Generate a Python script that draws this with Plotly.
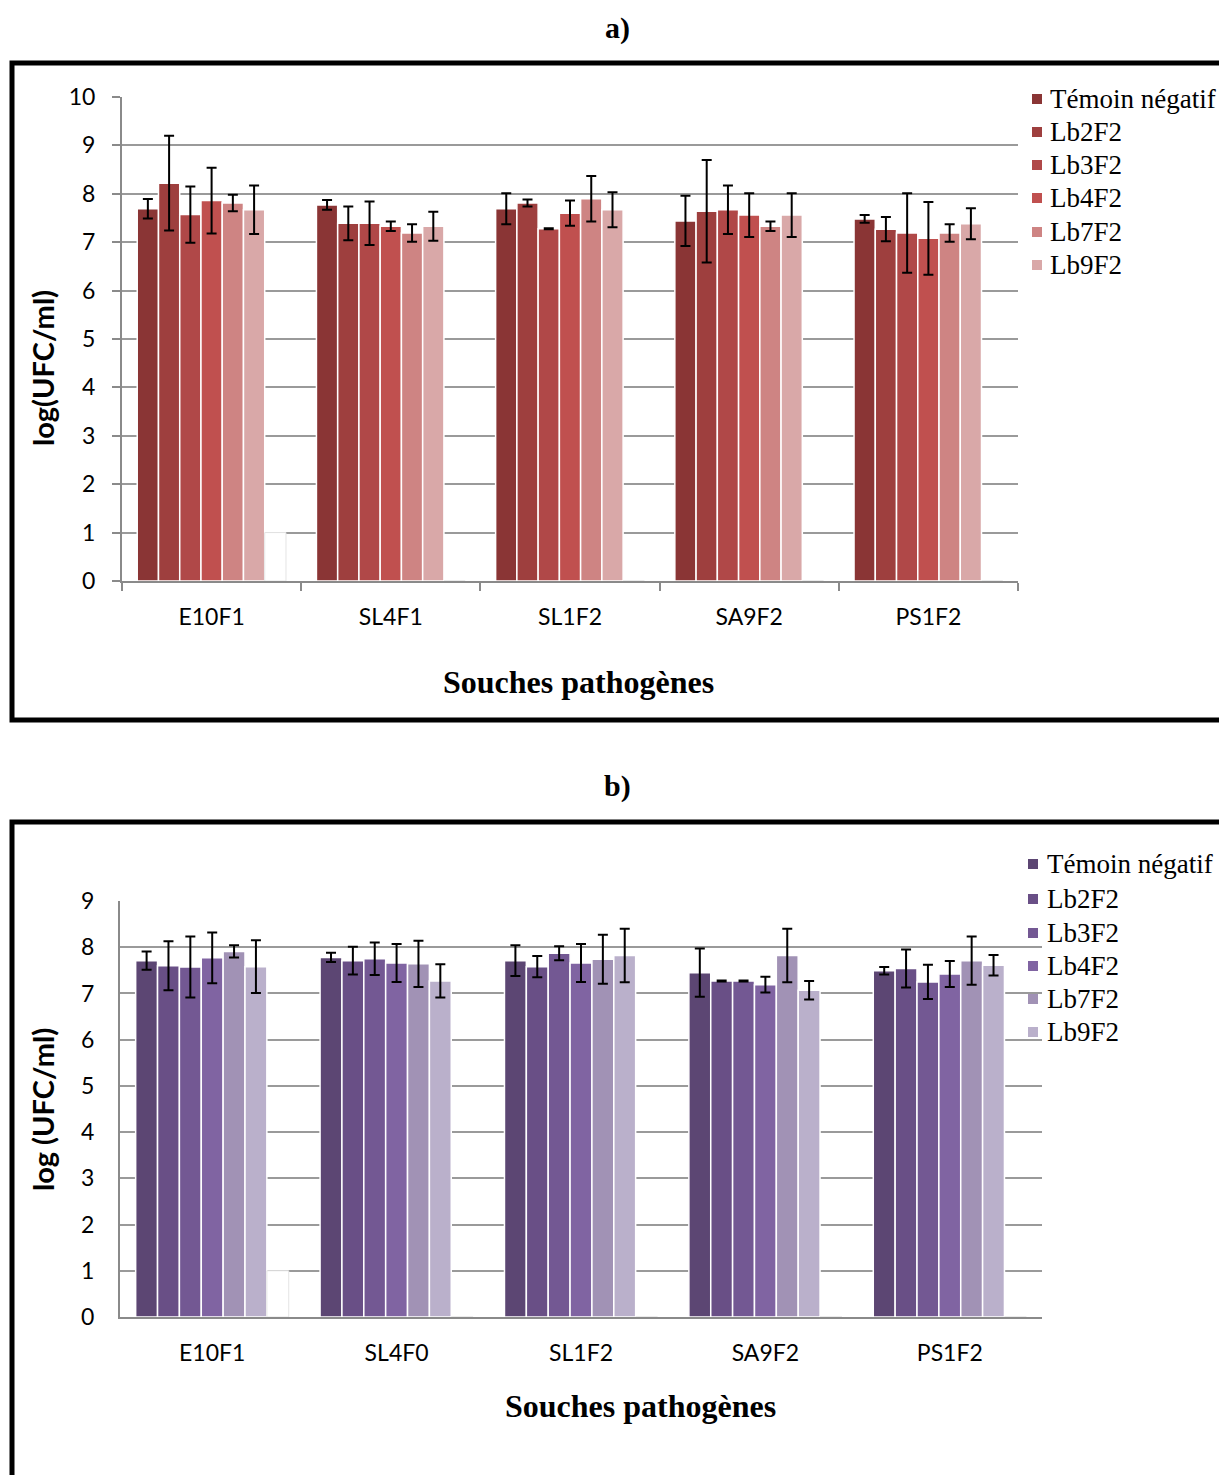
import plotly.graph_objects as go

W, H = 1219, 1475

series = ["Témoin négatif", "Lb2F2", "Lb3F2", "Lb4F2", "Lb7F2", "Lb9F2"]
cats_a = ["E10F1", "SL4F1", "SL1F2", "SA9F2", "PS1F2"]
cats_b = ["E10F1", "SL4F0", "SL1F2", "SA9F2", "PS1F2"]

colors_a = ["#8A3535", "#9E3F3E", "#B04848", "#C0504F", "#CE8483", "#D9A8A8"]
colors_b = ["#5C4673", "#694F86", "#735893", "#8064A2", "#A192B5", "#BAB0CB"]

vals_a = [
    [7.69, 7.77, 7.69, 7.44, 7.48],
    [8.22, 7.39, 7.81, 7.64, 7.27],
    [7.57, 7.39, 7.28, 7.67, 7.19],
    [7.86, 7.33, 7.60, 7.56, 7.08],
    [7.81, 7.19, 7.90, 7.33, 7.19],
    [7.67, 7.33, 7.67, 7.56, 7.38],
]
errs_a = [
    [0.20, 0.10, 0.32, 0.52, 0.08],
    [0.98, 0.35, 0.07, 1.06, 0.25],
    [0.58, 0.45, 0.01, 0.50, 0.82],
    [0.68, 0.10, 0.26, 0.45, 0.75],
    [0.17, 0.18, 0.47, 0.10, 0.18],
    [0.50, 0.30, 0.36, 0.45, 0.32],
]
vals_b = [
    [7.71, 7.78, 7.71, 7.45, 7.49],
    [7.60, 7.71, 7.58, 7.27, 7.54],
    [7.57, 7.75, 7.87, 7.27, 7.25],
    [7.77, 7.66, 7.66, 7.19, 7.42],
    [7.91, 7.64, 7.74, 7.82, 7.71],
    [7.58, 7.27, 7.82, 7.07, 7.61],
]
errs_b = [
    [0.20, 0.10, 0.33, 0.52, 0.08],
    [0.53, 0.30, 0.23, 0.01, 0.41],
    [0.66, 0.35, 0.15, 0.01, 0.37],
    [0.55, 0.41, 0.41, 0.17, 0.28],
    [0.13, 0.50, 0.53, 0.58, 0.52],
    [0.57, 0.36, 0.58, 0.20, 0.22],
]
blank_a = [1, 0, 0, 0, 0]
blank_b = [1, 0, 0, 0, 0]

yticks_a = [0, 1, 2, 3, 4, 5, 6, 7, 8, 9, 10]
yticks_b = [0, 1, 2, 3, 4, 5, 6, 7, 8, 9]


def px(x):
    return x / W


def py(y):
    return 1 - y / H


fig = go.Figure()

for i, name in enumerate(series):
    fig.add_trace(go.Bar(
        x=cats_a, y=vals_a[i], name=name, xaxis="x", yaxis="y",
        marker=dict(color=colors_a[i], line=dict(color="white", width=1.5)),
        error_y=dict(type="data", array=errs_a[i], color="black", thickness=2, width=5),
        showlegend=False,
    ))
fig.add_trace(go.Bar(
    x=cats_a, y=blank_a, xaxis="x", yaxis="y",
    marker=dict(color="white", line=dict(color="#e4e4e4", width=1)),
    showlegend=False, hoverinfo="skip",
))
for i, name in enumerate(series):
    fig.add_trace(go.Bar(
        x=cats_b, y=vals_b[i], name=name, xaxis="x2", yaxis="y2",
        marker=dict(color=colors_b[i], line=dict(color="white", width=1.5)),
        error_y=dict(type="data", array=errs_b[i], color="black", thickness=2, width=5),
        showlegend=False,
    ))
fig.add_trace(go.Bar(
    x=cats_b, y=blank_b, xaxis="x2", yaxis="y2",
    marker=dict(color="white", line=dict(color="#e4e4e4", width=1)),
    showlegend=False, hoverinfo="skip",
))

sans = "Lato, Open Sans, sans-serif"
tickfont = dict(family=sans, size=23, color="black")
axcol = "#8a8a8a"

fig.update_layout(
    template="none",
    width=W, height=H,
    margin=dict(l=0, r=0, t=0, b=0, pad=0, autoexpand=False),
    paper_bgcolor="white", plot_bgcolor="white",
    barmode="group", bargap=0.17, bargroupgap=0,
    xaxis=dict(domain=[px(122), px(1018)], anchor="y", automargin=False, showline=True,
               linecolor=axcol, linewidth=2,
               ticks="outside", tickson="boundaries", ticklen=8, tickcolor=axcol, tickwidth=2,
               tickfont=tickfont, showgrid=False, ticklabelstandoff=14),
    yaxis=dict(domain=[py(581), py(97)], anchor="x", automargin=False, range=[0, 10], tickvals=yticks_a,
               showline=True, linecolor=axcol, linewidth=2, ticks="outside", ticklen=8,
               tickcolor=axcol, tickwidth=2, showgrid=True, gridcolor="#9a9a9a", gridwidth=2,
               tickfont=tickfont, ticklabelstandoff=12, zeroline=False),
    xaxis2=dict(domain=[px(120), px(1042)], anchor="y2", automargin=False, showline=True,
                linecolor=axcol, linewidth=2,
                ticks="", tickfont=tickfont, showgrid=False, ticklabelstandoff=14),
    yaxis2=dict(domain=[py(1317), py(901)], anchor="x2", automargin=False, range=[0, 9], tickvals=yticks_b,
                showline=True, linecolor=axcol, linewidth=2, ticks="",
                showgrid=True, gridcolor="#9a9a9a", gridwidth=2,
                tickfont=tickfont, ticklabelstandoff=19, zeroline=False),
)

shapes = [
    dict(type="rect", xref="paper", yref="paper", x0=px(12), x1=px(1235), y0=py(720), y1=py(63),
         line=dict(color="black", width=5), fillcolor="rgba(0,0,0,0)", layer="below"),
    dict(type="rect", xref="paper", yref="paper", x0=px(12), x1=px(1235), y0=py(1500), y1=py(822),
         line=dict(color="black", width=5), fillcolor="rgba(0,0,0,0)", layer="below"),
]
annotations = []

serif = "Liberation Serif, Times New Roman, serif"


def ann(text, x, y, size, family, angle=0, xanchor="center"):
    annotations.append(dict(text=text, x=px(x), y=py(y), xref="paper", yref="paper",
                            xanchor=xanchor, yanchor="middle", showarrow=False, textangle=angle,
                            font=dict(family=family, size=size, color="black")))


ann("<b>a)</b>", 617, 28, 30, serif)
ann("<b>b)</b>", 617, 786, 30, serif)
ann("<b>Souches pathogènes</b>", 578, 682, 32, serif)
ann("<b>Souches pathogènes</b>", 640, 1406, 32, serif)
ann("<b>log(UFC/ml)</b>", 42, 368, 29, sans, angle=-90)
ann("<b>log (UFC/ml)</b>", 42, 1110, 29, sans, angle=-90)

# legends
leg_a_y = [99, 132, 165, 198, 232, 265]
leg_b_y = [864, 899, 933, 966, 999, 1032]
for i, name in enumerate(series):
    ya = leg_a_y[i]
    shapes.append(dict(type="rect", xref="paper", yref="paper", x0=px(1032), x1=px(1042),
                       y0=py(ya + 5), y1=py(ya - 5), fillcolor=colors_a[i], line=dict(width=0)))
    ann(name, 1048, ya, 27, serif, xanchor="left")
    yb = leg_b_y[i]
    shapes.append(dict(type="rect", xref="paper", yref="paper", x0=px(1028), x1=px(1038),
                       y0=py(yb + 5), y1=py(yb - 5), fillcolor=colors_b[i], line=dict(width=0)))
    ann(name, 1045, yb, 27, serif, xanchor="left")

fig.update_layout(shapes=shapes, annotations=annotations)
fig.write_html("out.html")
